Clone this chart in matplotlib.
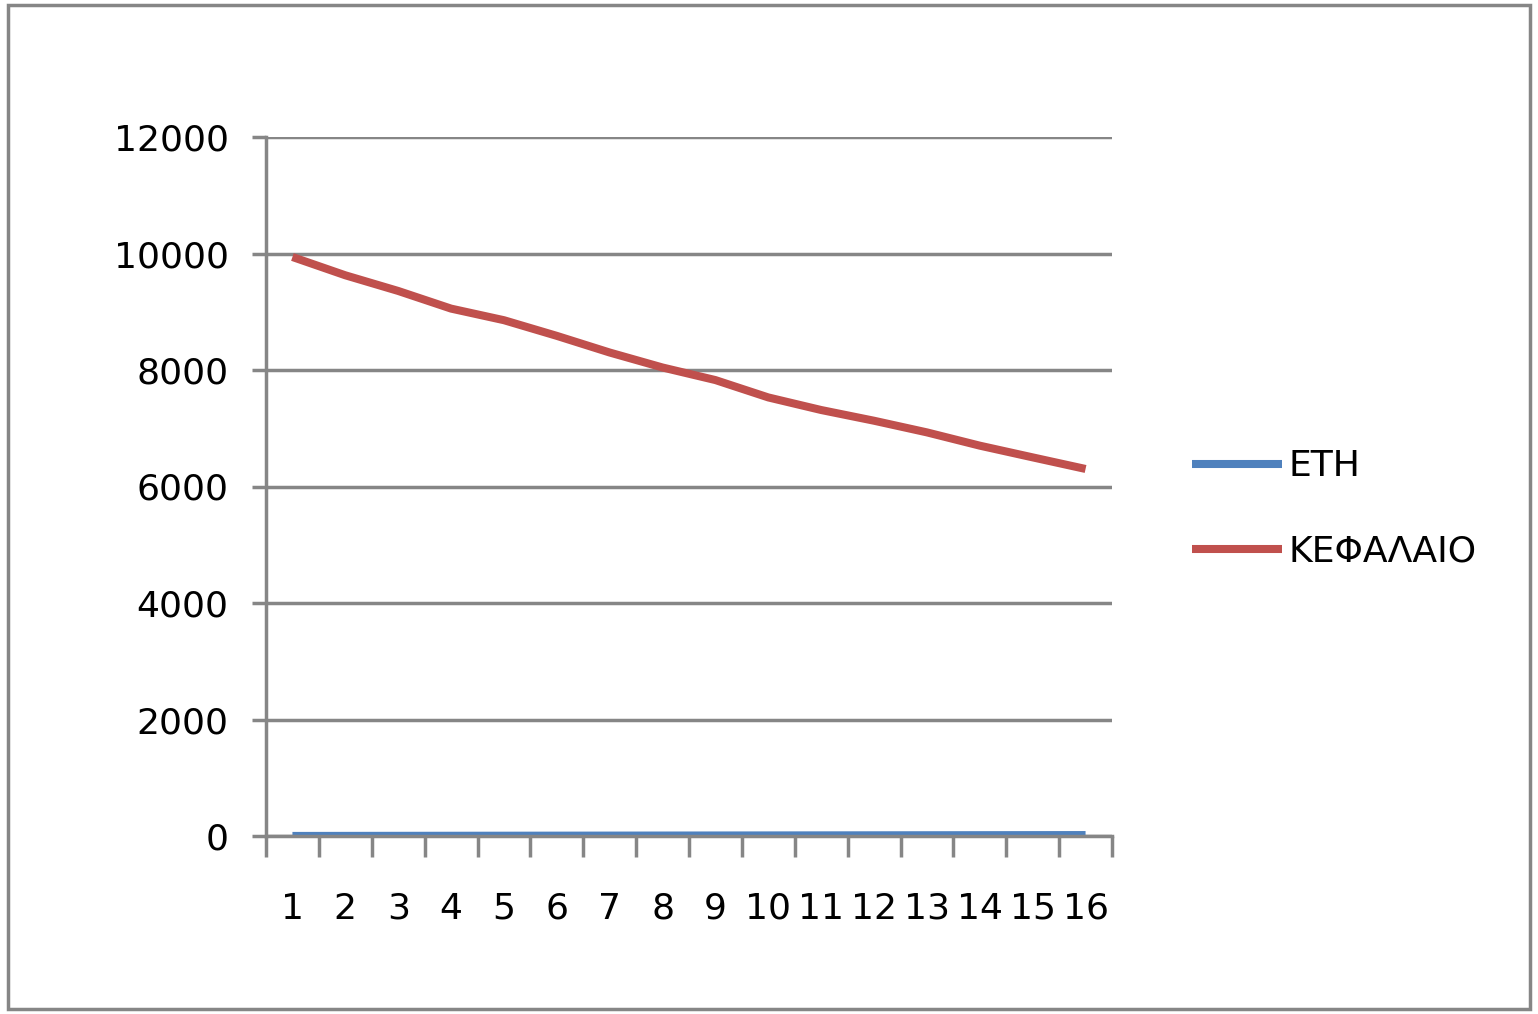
import matplotlib
matplotlib.use("Agg")
import matplotlib.pyplot as plt
from matplotlib.patches import Rectangle

categories = [str(i) for i in range(1, 17)]
eth = [1, 2, 3, 4, 5, 6, 7, 8, 9, 10, 11, 12, 13, 14, 15, 16]
kefalaio = [9940, 9626, 9357, 9054, 8855, 8586, 8300, 8043,
            7827, 7529, 7313, 7129, 6929, 6701, 6500, 6301]
yticks = [0, 2000, 4000, 6000, 8000, 10000, 12000]

GRAY = "#868686"
BLUE = "#4F81BD"
RED = "#C0504D"

plt.rcParams['font.family'] = ['DejaVu Sans']

fig = plt.figure(figsize=(15.38, 10.14), dpi=100)
ax = fig.add_axes([266/1538, 1-836/1014, (1112-266)/1538, (836-137)/1014])

x = list(range(len(categories)))
ax.plot(x, eth, color=BLUE, lw=5.8, label="ΕΤΗ", solid_capstyle="butt")
ax.plot(x, kefalaio, color=RED, lw=5.8, label="ΚΕΦΑΛΑΙΟ", solid_capstyle="butt")

ax.set_xlim(-0.5, len(categories) - 0.5)
ax.set_ylim(0, 12000)
ax.set_yticks(yticks)
ax.set_yticklabels([str(v) for v in yticks], fontsize=26)
ax.yaxis.grid(True, color=GRAY, lw=2.5)
ax.set_axisbelow(True)

# category labels at centers, tick marks at boundaries
ax.set_xticks(x)
ax.set_xticklabels(categories, fontsize=26)
ax.tick_params(axis='x', which='major', length=0, pad=40)
ax.set_xticks([i - 0.5 for i in range(len(categories) + 1)], minor=True)
ax.tick_params(axis='x', which='minor', length=15, width=2.5, color=GRAY)
ax.tick_params(axis='y', length=10, width=2.5, color=GRAY, pad=17)

for s in ["top", "right"]:
    ax.spines[s].set_visible(False)
for s in ["left", "bottom"]:
    ax.spines[s].set_color(GRAY)
    ax.spines[s].set_linewidth(2.5)

fig.legend(loc="center left", bbox_to_anchor=(1159/1538, 1-509/1014),
           frameon=False, fontsize=26, handlelength=2.5, handletextpad=0.2,
           labelspacing=1.42)

fig.patches.append(Rectangle((8/1538, 5/1014), (1530-8)/1538, (1009-5)/1014,
                             transform=fig.transFigure, fill=False,
                             edgecolor=GRAY, lw=2.5))

fig.savefig("out.png", dpi=100, facecolor="white")
